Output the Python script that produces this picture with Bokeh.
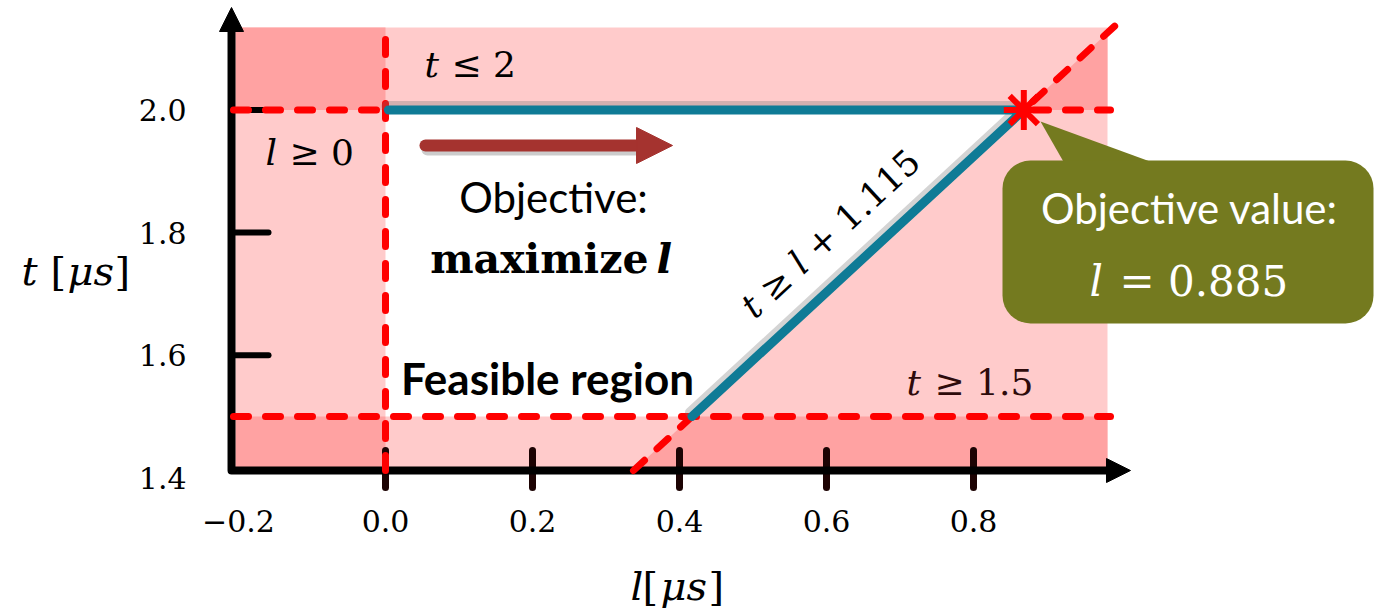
import numpy as np
from bokeh.plotting import figure
from bokeh.models import Range1d, Arrow, NormalHead
from bokeh.core.properties import value
from bokeh.embed import file_html
from bokeh.resources import INLINE

# ---------------- data ----------------
X_TICKS = [-0.2, 0.0, 0.2, 0.4, 0.6, 0.8]
X_TICK_LABELS = ["\u22120.2", "0.0", "0.2", "0.4", "0.6", "0.8"]
Y_TICKS = [1.4, 1.6, 1.8, 2.0]
Y_TICK_LABELS = ["1.4", "1.6", "1.8", "2.0"]
X_TICK_MARKS = [0.0, 0.2, 0.4, 0.6, 0.8]
Y_TICK_MARKS = [1.6, 1.8, 2.0]

AXIS_ORIGIN = [-0.2095, 1.4119]   # (l, t) where the drawn axes meet
AXIS_ENDS = [1.0136, 2.1672]      # arrow tips of the l axis and the t axis
SHADED_L = [-0.2041, 0.9823]      # extent of the shaded (infeasible) area
SHADED_T = [1.4119, 2.1346]

L_LOWER = 0.0        # l >= 0
T_UPPER = 2.0        # t <= 2
T_LOWER = 1.5        # t >= 1.5
DIAG_L = [0.3374, 0.9973]   # t >= l + 1.115 (as drawn)
DIAG_T = [1.4119, 2.1427]
V_LINE_T = [1.4119, 2.1378]
H_LINE_L = [-0.2068, 0.9864]
FRONTIER_START_L = 0.004
OBJ_ARROW_L = [0.0544, 0.3905]
OBJ_ARROW_T = 1.9421


def l_on_diag(t):
    return float(np.interp(t, DIAG_T, DIAG_L))


def t_on_diag(l):
    return float(np.interp(l, DIAG_L, DIAG_T))


L_OPT = l_on_diag(T_UPPER)
L_CORNER = l_on_diag(T_LOWER)

# ---------------- layout ----------------
W, H = 1376, 611
PX_L, PX_T = 735.0, 613.0
L0_PX, T2_PX = 385.0, 109.5


def lx(px):
    return (px - L0_PX) / PX_L


def ty(py):
    return 2.0 - (py - T2_PX) / PX_T


p = figure(width=W, height=H,
           x_range=Range1d(lx(0), lx(W)),
           y_range=Range1d(ty(H), ty(0)),
           output_backend="svg", toolbar_location=None,
           x_axis_location=None, y_axis_location=None,
           min_border_left=0, min_border_right=0,
           min_border_top=0, min_border_bottom=0)
p.outline_line_color = None
p.xgrid.visible = False
p.ygrid.visible = False

SERIF = "DejaVu Serif"
SANS = "Lato"
LIGHT = "#FFCBCB"
DARK = "#FFA2A2"
RED = "#FF0000"
TEAL = "#0F7B96"

# shaded infeasible area
p.quad(left=[SHADED_L[0]], right=[SHADED_L[1]], bottom=[SHADED_T[0]], top=[SHADED_T[1]],
       fill_color=LIGHT, line_color=None)
p.quad(left=[SHADED_L[0], SHADED_L[0]], right=[L_LOWER, L_LOWER],
       bottom=[T_UPPER, SHADED_T[0]], top=[SHADED_T[1], T_LOWER],
       fill_color=DARK, line_color=None)
p.patches(xs=[[DIAG_L[0], L_CORNER, SHADED_L[1], SHADED_L[1]],
              [L_OPT, SHADED_L[1], SHADED_L[1]]],
          ys=[[DIAG_T[0], T_LOWER, T_LOWER, DIAG_T[0]],
              [T_UPPER, T_UPPER, t_on_diag(SHADED_L[1])]],
          fill_color=DARK, line_color=None)

# white feasible region
p.patch(x=[L_LOWER, L_LOWER, L_OPT, L_CORNER], y=[T_LOWER, T_UPPER, T_UPPER, T_LOWER],
        fill_color="white", line_color=None)

# tick marks
p.segment(x0=X_TICK_MARKS, x1=X_TICK_MARKS,
          y0=[AXIS_ORIGIN[1] - 17 / PX_T] * len(X_TICK_MARKS),
          y1=[AXIS_ORIGIN[1] + 20 / PX_T] * len(X_TICK_MARKS),
          line_color="#1c0303", line_width=7, line_cap="round")
p.segment(x0=[AXIS_ORIGIN[0]] * len(Y_TICK_MARKS),
          x1=[AXIS_ORIGIN[0] + 37 / PX_L] * len(Y_TICK_MARKS),
          y0=Y_TICK_MARKS, y1=Y_TICK_MARKS,
          line_color="#000000", line_width=6, line_cap="round")

# axes with arrow heads
p.line(x=[AXIS_ORIGIN[0], AXIS_ORIGIN[0], AXIS_ENDS[0] - 20 / PX_L],
       y=[AXIS_ENDS[1] - 20 / PX_T, AXIS_ORIGIN[1], AXIS_ORIGIN[1]],
       line_color="#000000", line_width=8, line_join="round")
p.add_layout(Arrow(end=NormalHead(size=24, fill_color="#000000", line_color="#000000"),
                   x_start=AXIS_ENDS[0] - 24 / PX_L, y_start=AXIS_ORIGIN[1],
                   x_end=AXIS_ENDS[0], y_end=AXIS_ORIGIN[1], line_alpha=0))
p.add_layout(Arrow(end=NormalHead(size=24, fill_color="#000000", line_color="#000000"),
                   x_start=AXIS_ORIGIN[0], y_start=AXIS_ENDS[1] - 24 / PX_T,
                   x_end=AXIS_ORIGIN[0], y_end=AXIS_ENDS[1], line_alpha=0))

# tick labels, placed through the scales at the tick values
p.text(x=X_TICKS, y=[ty(520)] * len(X_TICKS), text=X_TICK_LABELS,
       text_font=value(SERIF), text_font_size=value("30px"), text_color="#000000",
       text_align="center", text_baseline="middle")
p.text(x=[lx(186)] * len(Y_TICKS), y=Y_TICKS, text=Y_TICK_LABELS,
       text_font=value(SERIF), text_font_size=value("30px"), text_color="#000000",
       text_align="right", text_baseline="middle")

# constraint lines (red dashed)
DASH = dict(line_color=RED, line_width=7, line_dash="15 17", line_cap="round")
p.line(x=[L_LOWER, L_LOWER], y=V_LINE_T, **DASH)
p.line(x=H_LINE_L, y=[T_UPPER, T_UPPER], **DASH)
p.line(x=H_LINE_L, y=[T_LOWER, T_LOWER], **DASH)
p.line(x=DIAG_L, y=DIAG_T, **DASH)

# optimal frontier (teal) with a soft shadow
FRONT_L = [FRONTIER_START_L, L_OPT, L_CORNER]
FRONT_T = [T_UPPER, T_UPPER, T_LOWER]
p.line(x=[v - 2 / PX_L for v in FRONT_L], y=[v + 4 / PX_T for v in FRONT_T],
       line_color="#6f6f6f", line_alpha=0.3, line_width=10, line_join="round", line_cap="round")
p.line(x=FRONT_L, y=FRONT_T, line_color=TEAL, line_width=9, line_join="round", line_cap="round")

# optimum marker
p.scatter(x=[L_OPT], y=[T_UPPER], marker="asterisk", size=40, line_color=RED, line_width=6)

# objective arrow
AR = "#A5332F"
p.line(x=[OBJ_ARROW_L[0] + 2 / PX_L, OBJ_ARROW_L[1] - 30 / PX_L],
       y=[OBJ_ARROW_T - 4 / PX_T] * 2, line_color="#555555", line_alpha=0.3,
       line_width=12, line_cap="round")
p.line(x=[OBJ_ARROW_L[0], OBJ_ARROW_L[1] - 30 / PX_L], y=[OBJ_ARROW_T] * 2,
       line_color=AR, line_width=12, line_cap="round")
p.add_layout(Arrow(end=NormalHead(size=36, fill_color=AR, line_color=AR),
                   x_start=OBJ_ARROW_L[1] - 36 / PX_L, y_start=OBJ_ARROW_T,
                   x_end=OBJ_ARROW_L[1], y_end=OBJ_ARROW_T, line_alpha=0))

# callout
OLIVE = "#747A1F"
p.patch(x=[lx(1040), lx(1064), lx(1155)], y=[ty(121), ty(163), ty(163)],
        fill_color=OLIVE, line_color=None)
p.quad(left=[lx(1002)], right=[lx(1373)], top=[ty(160)], bottom=[ty(323)],
       fill_color=OLIVE, line_color=None, border_radius=28)


def txt(l, t, s, size, font=SERIF, style="normal", color="#000000", align="left", angle=0.0):
    p.text(x=[l], y=[t], text=[s], text_font=value(font), text_font_size=value(f"{size}px"),
           text_font_style=style, text_color=color, text_align=align,
           text_baseline="middle", angle=angle)


# axis titles (math-style pieces)
txt(lx(21), ty(270), "t", 40, style="italic")
txt(lx(50), ty(270), "[", 40)
txt(lx(67), ty(270), "\u03bcs", 40, style="italic")
txt(lx(114), ty(270), "]", 40)
txt(lx(630), ty(585), "l", 40, style="italic")
txt(lx(642), ty(585), "[", 40)
txt(lx(660), ty(585), "\u03bcs", 40, style="italic")
txt(lx(708), ty(585), "]", 40)

# constraint labels
txt(lx(424), ty(64), "t", 36, style="italic")
txt(lx(451), ty(64), "\u2264 2", 36)
txt(lx(265), ty(152), "l", 36, style="italic")
txt(lx(289), ty(152), "\u2265 0", 36)
txt(lx(906), ty(382), "t", 36, style="italic", color="#2e0b0b")
txt(lx(934), ty(382), "\u2265 1.5", 36, color="#2e0b0b")

# rotated label along the diagonal, built from pieces
ang = float(np.arctan2((DIAG_T[1] - DIAG_T[0]) * PX_T, (DIAG_L[1] - DIAG_L[0]) * PX_L))
fs = 35
pieces = [("t", "italic", 0.40), ("\u2265", "normal", 0.838), ("l", "italic", 0.32),
          ("+ 1.115", "normal", 0.838 + 0.318 + 2.544)]
gap = 0.318
total = sum(w for _, _, w in pieces) + gap * (len(pieces) - 1)
cx, cy = 826.0, 237.0
pos = -total * fs / 2
for s, st, w in pieces:
    px = cx + pos * np.cos(ang)
    py = cy - pos * np.sin(ang)
    txt(lx(px), ty(py), s, fs, style=st, angle=ang)
    pos += (w + gap) * fs

# objective text
txt(lx(553), ty(196), "Objective:", 42, font=SANS, align="center")
txt(lx(648), ty(258), "maximize", 41, style="bold", align="right")
txt(lx(656), ty(258), "l", 41, style="bold italic")
txt(lx(547), ty(377), "Feasible region", 44, font=SANS, style="bold", align="center")

# callout text
txt(lx(1189), ty(207), "Objective value:", 42, font=SANS, color="white", align="center")
txt(lx(1089), ty(281), "l", 42, style="italic", color="white")
txt(lx(1119), ty(281), "= 0.885", 42, color="white")

open("out.html", "w").write(file_html(p, INLINE))
